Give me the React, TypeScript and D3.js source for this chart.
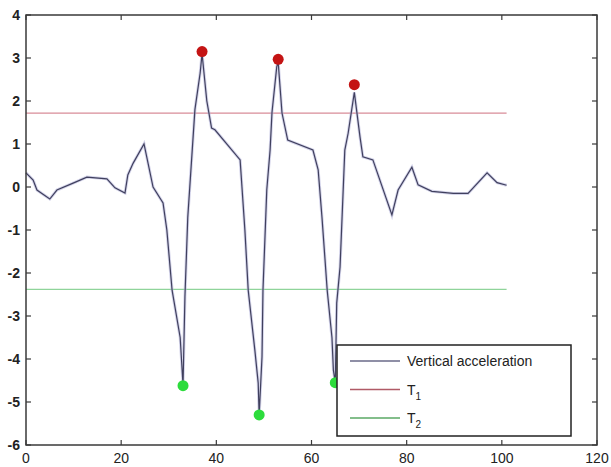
import React from "react";
import * as d3 from "d3";

// vertical acceleration samples
const sampleX = [0, 1.5, 2.3, 5, 6.5, 9.9, 12.8, 17, 18.7, 20.8, 21.4, 22.5, 24.8, 26.7, 28.8, 29.6, 30.7, 32.4, 33, 33.4, 34, 35.5, 36.6, 37, 38, 39, 39.7, 45, 46, 46.7, 48.1, 48.8, 49, 49.6, 49.8, 50.6, 51.3, 51.7, 52.7, 53, 53.8, 55, 60.3, 61.4, 62.2, 63.3, 64.3, 64.6, 65, 65.3, 66, 67, 67.7, 69, 70.2, 70.8, 72.9, 76.9, 78.2, 81.1, 82.4, 85.3, 89.8, 92.9, 96.9, 99, 101];
const sampleY = [0.33, 0.16, -0.07, -0.28, -0.07, 0.09, 0.23, 0.19, -0.02, -0.14, 0.28, 0.55, 1.0, 0.0, -0.37, -1.0, -2.4, -3.5, -4.6, -2.56, -0.7, 1.8, 2.65, 3.1, 2.0, 1.37, 1.33, 0.63, -1.0, -2.4, -3.8, -4.56, -5.3, -3.95, -2.4, -0.07, 0.86, 1.74, 2.8, 2.9, 1.72, 1.09, 0.86, 0.4, -0.7, -2.4, -3.5, -4.26, -4.55, -2.7, -1.86, 0.86, 1.25, 2.2, 1.16, 0.7, 0.63, -0.65, -0.07, 0.46, 0.05, -0.1, -0.15, -0.15, 0.33, 0.1, 0.04];

const peakX = [37, 53, 69];
const peakY = [3.15, 2.97, 2.38];
const troughX = [33, 49, 65];
const troughY = [-4.62, -5.3, -4.55];

const t1 = 1.72;
const t2 = -2.38;
const thresholdRange = [0, 101];

const xTicks = [0, 20, 40, 60, 80, 100, 120];
const yTicks = [-6, -5, -4, -3, -2, -1, 0, 1, 2, 3, 4];

const legendItems = [
  { label: "Vertical acceleration", sub: "", color: "#6a6a88" },
  { label: "T", sub: "1", color: "#b05a66" },
  { label: "T", sub: "2", color: "#5aa865" },
];

const W = 611;
const H = 467;
const margin = { top: 15, right: 14, bottom: 22, left: 26 };
const font = "'Liberation Sans', Arial, sans-serif";

export default function App() {
  const x = d3.scaleLinear().domain([0, 120]).range([margin.left, W - margin.right]);
  const y = d3.scaleLinear().domain([-6, 4]).range([H - margin.bottom, margin.top]);

  const pts: [number, number][] = sampleX.map((v, i) => [v, sampleY[i]]);
  const line = d3
    .line<[number, number]>()
    .x((d) => x(d[0]))
    .y((d) => y(d[1]));

  const x0 = x(0), x1 = x(120), y0 = y(-6), y1 = y(4);
  const tickLen = 5;
  const lx = 337, ly = 345, lw = 234, lh = 91;

  return (
    <svg width={W} height={H} style={{ position: "absolute", left: 0, top: 0, background: "#fff" }}>
      <rect x={0} y={0} width={W} height={H} fill="#fff" />
      {/* thresholds */}
      <line x1={x(thresholdRange[0])} x2={x(thresholdRange[1])} y1={y(t1)} y2={y(t1)} stroke="#d88c98" strokeWidth={1.3} />
      <line x1={x(thresholdRange[0])} x2={x(thresholdRange[1])} y1={y(t2)} y2={y(t2)} stroke="#8fd49a" strokeWidth={1.3} />
      {/* signal */}
      <path d={line(pts) ?? ""} fill="none" stroke="#b8b8dc" strokeWidth={3} opacity={0.6} />
      <path d={line(pts) ?? ""} fill="none" stroke="#40405e" strokeWidth={1.2} />
      {peakX.map((v, i) => (
        <circle key={"p" + i} cx={x(v)} cy={y(peakY[i])} r={5.5} fill="#c41414" />
      ))}
      {troughX.map((v, i) => (
        <circle key={"t" + i} cx={x(v)} cy={y(troughY[i])} r={5.5} fill="#2ddc3c" />
      ))}
      {/* axes box */}
      <rect x={x0} y={y1} width={x1 - x0} height={y0 - y1} fill="none" stroke="#3a3a3a" strokeWidth={1.5} />
      {xTicks.map((t) => (
        <g key={"xt" + t}>
          <line x1={x(t)} x2={x(t)} y1={y0} y2={y0 - tickLen} stroke="#3a3a3a" strokeWidth={1.2} />
          <line x1={x(t)} x2={x(t)} y1={y1} y2={y1 + tickLen} stroke="#3a3a3a" strokeWidth={1.2} />
          <text x={x(t)} y={y0 + 18} textAnchor="middle" fontFamily={font} fontSize={14} fill="#222">
            {t}
          </text>
        </g>
      ))}
      {yTicks.map((t) => (
        <g key={"yt" + t}>
          <line x1={x0} x2={x0 + tickLen} y1={y(t)} y2={y(t)} stroke="#3a3a3a" strokeWidth={1.2} />
          <line x1={x1} x2={x1 - tickLen} y1={y(t)} y2={y(t)} stroke="#3a3a3a" strokeWidth={1.2} />
          <text x={x0 - 6} y={y(t) + 5} textAnchor="end" fontFamily={font} fontSize={14} fontWeight="bold" fill="#222">
            {t}
          </text>
        </g>
      ))}
      {/* legend */}
      <rect x={lx} y={ly} width={lw} height={lh} fill="#fff" stroke="#222" strokeWidth={1.5} />
      {legendItems.map((d, i) => {
        const cy = ly + 16 + i * 28.5;
        return (
          <g key={"lg" + i}>
            <line x1={lx + 13} x2={lx + 63} y1={cy} y2={cy} stroke={d.color} strokeWidth={1.5} />
            <text x={lx + 70} y={cy + 5} fontFamily={font} fontSize={14} fill="#222">
              {d.label}
              {d.sub && (
                <tspan dy={5} fontSize={10}>
                  {d.sub}
                </tspan>
              )}
            </text>
          </g>
        );
      })}
    </svg>
  );
}
